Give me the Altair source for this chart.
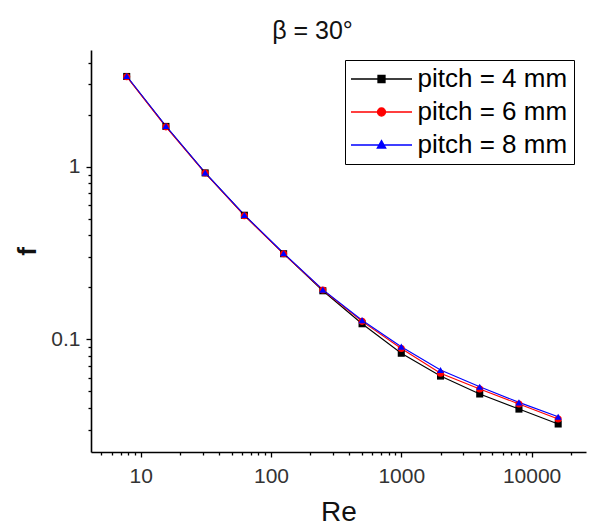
import altair as alt
import pandas as pd

re_vals = [7.8125, 15.625, 31.25, 62.5, 125, 250, 500, 1000, 2000, 4000, 8000, 16000]
f_p4 = [3.33, 1.71, 0.92, 0.523, 0.313, 0.191, 0.123, 0.083, 0.0612, 0.0482, 0.0394, 0.0323]
f_p6 = [3.32, 1.70, 0.918, 0.520, 0.313, 0.193, 0.127, 0.0885, 0.0635, 0.0515, 0.0422, 0.0345]
f_p8 = [3.35, 1.72, 0.923, 0.525, 0.315, 0.194, 0.129, 0.0906, 0.0664, 0.0531, 0.0431, 0.0356]
series_names = ["pitch = 4 mm", "pitch = 6 mm", "pitch = 8 mm"]
series_colors = ["#000000", "#ff0000", "#0000ff"]
series_shapes = ["square", "circle", "triangle-up"]
# legend symbols: a line with the marker on it
legend_paths = [
    "M-3.05,0H3.05M-0.35,-0.35H0.35V0.35H-0.35Z",
    "M-3.05,0H3.05M-0.4,0A0.4,0.4 0 1,0 0.4,0A0.4,0.4 0 1,0 -0.4,0Z",
    "M-3.05,0H3.05M0,-0.45L0.42,0.3L-0.42,0.3Z",
]

x_major = [10, 100, 1000, 10000]
x_minor = [5, 6, 7, 8, 9, 20, 30, 40, 50, 60, 70, 80, 90, 200, 300, 400, 500, 600, 700, 800, 900,
           2000, 3000, 4000, 5000, 6000, 7000, 8000, 9000, 20000]
y_major = [0.1, 1]
y_minor = [0.03, 0.04, 0.05, 0.06, 0.07, 0.08, 0.09, 0.2, 0.3, 0.4, 0.5, 0.6, 0.7, 0.8, 0.9, 2, 3, 4]

rows = []
for i, (name, vals) in enumerate(zip(series_names, [f_p4, f_p6, f_p8])):
    for r, f in zip(re_vals, vals):
        rows.append({"Re": r, "f": f, "series": name, "order": i})
df = pd.DataFrame(rows)

FONT = "Liberation Sans"
xscale = alt.Scale(type="log", domain=[4.156, 26160], nice=False)
yscale = alt.Scale(type="log", domain=[0.02223, 4.74], nice=False)

x_test = "indexof(" + str(x_major) + ", datum.value) >= 0"
y_test = "indexof(" + str(y_major) + ", datum.value) >= 0"

x_axis = alt.Axis(
    values=sorted(x_major + x_minor), title="Re", titleFontSize=28, titleFontWeight="normal",
    titleFont=FONT, titleColor="#111", titlePadding=12, labelFont=FONT, labelFontSize=21,
    labelExpr=x_test + " ? format(datum.value, 'd') : ''",
    labelColor="#333", labelPadding=8,
    tickSize={"condition": {"test": x_test, "value": 5}, "value": 3},
    tickWidth=1.3, tickColor="#000", domainColor="#000", domainWidth=1.6, grid=False,
    labelFlush=False, labelOverlap=False)
y_axis = alt.Axis(
    values=sorted(y_major + y_minor), title="f", titleFontSize=26, titleFontWeight="bold",
    titleFont=FONT, titleColor="#111", titlePadding=10, labelFont=FONT, labelFontSize=21,
    labelExpr=y_test + " ? format(datum.value, '~g') : ''",
    labelColor="#333", labelPadding=6,
    tickSize={"condition": {"test": y_test, "value": 5}, "value": 3},
    tickWidth=1.3, tickColor="#000", domainColor="#000", domainWidth=1.6, grid=False,
    labelFlush=False, labelOverlap=False)

layers = []
for k, (name, col) in enumerate(zip(series_names, series_colors)):
    if k == 0:
        enc = dict(x=alt.X("Re:Q", scale=xscale, axis=x_axis), y=alt.Y("f:Q", scale=yscale, axis=y_axis))
    else:
        enc = dict(x=alt.X("Re:Q", scale=xscale), y=alt.Y("f:Q", scale=yscale))
    layers.append(
        alt.Chart(df).transform_filter(alt.datum.series == name)
        .mark_line(strokeWidth=1.1, color=col).encode(**enc)
    )

for name, col, shp in zip(series_names, series_colors, series_shapes):
    layers.append(
        alt.Chart(df).transform_filter(alt.datum.series == name)
        .mark_point(filled=True, size=50, opacity=1, shape=shp, color=col)
        .encode(x=alt.X("Re:Q", scale=xscale), y=alt.Y("f:Q", scale=yscale))
    )

legend_layer = alt.Chart(df).transform_filter("false").mark_point(
    filled=True, strokeWidth=1.3, opacity=1).encode(
    x=alt.X("Re:Q", scale=xscale),
    y=alt.Y("f:Q", scale=yscale),
    fill=alt.Fill("series:N", scale=alt.Scale(domain=series_names, range=series_colors), title=None,
                  legend=alt.Legend(
                      orient="none", legendX=254, legendY=10, strokeColor="#000", fillColor="#fff",
                      padding=6, labelFont=FONT, labelFontSize=26, labelColor="#000",
                      symbolSize=400, symbolOffset=17.5, labelOffset=23, rowPadding=7,
                      symbolOpacity=1, symbolStrokeWidth=1.3)),
    stroke=alt.Stroke("series:N", scale=alt.Scale(domain=series_names, range=series_colors), title=None),
    shape=alt.Shape("series:N", scale=alt.Scale(domain=series_names, range=legend_paths), title=None),
)
layers.append(legend_layer)

chart = alt.layer(*layers).properties(
    width=495, height=402,
    autosize=alt.AutoSizeParams(type="none"),
    padding={"left": 83, "top": 42, "right": 1, "bottom": 75},
    title=alt.TitleParams("β = 30°", font=FONT, fontSize=25, fontWeight="normal",
                          color="#111", offset=6, anchor="middle", dx=-26),
).configure_view(stroke=None)

chart.save("out.html", embed_options={"renderer": "svg", "actions": False})
